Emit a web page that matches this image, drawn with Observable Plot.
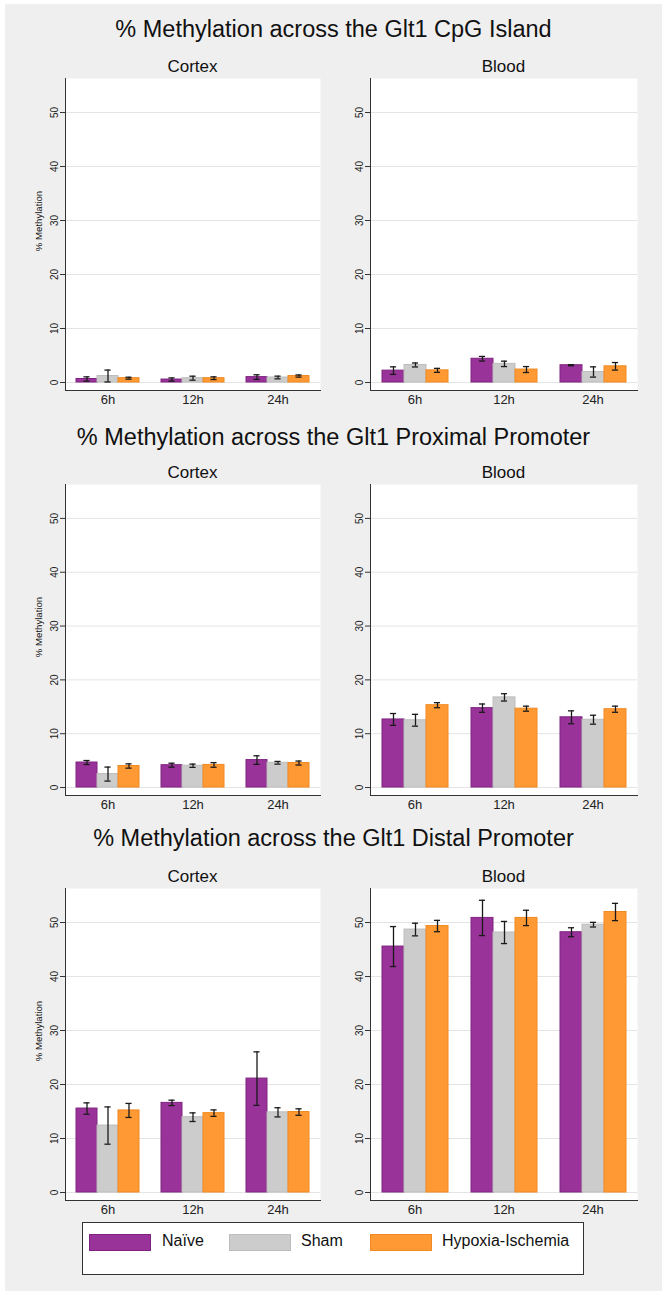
<!DOCTYPE html>
<html>
<head>
<meta charset="utf-8">
<script src="https://cdn.jsdelivr.net/npm/d3@7"></script>
<script src="https://cdn.jsdelivr.net/npm/@observablehq/plot@0.6"></script>
<style>
  html, body { margin: 0; padding: 0; background: #ffffff; }
  body { width: 667px; height: 1297px; position: relative; overflow: hidden;
         font-family: "Liberation Sans", Arial, sans-serif; color: #111; }
  #fig { position: absolute; left: 5px; top: 4px; width: 657px; height: 1287px; background: #efefef; }
  .abs { position: absolute; }
  .title { position: absolute; left: 0; width: 667px; text-align: center; font-size: 23.5px; line-height: 30px; color: #111; white-space: nowrap; }
  .sub { position: absolute; text-align: center; font-size: 17px; line-height: 22px; color: #111; white-space: nowrap; }
  .ylab { position: absolute; font-size: 9.6px; line-height: 12px; width: 100px; text-align: center; color: #111;
          transform: translate(-50%, -50%) rotate(-90deg); white-space: nowrap; }
  #legend { position: absolute; left: 82px; top: 1222px; width: 500px; height: 51px; background: #fff; border: 1px solid #333; }
  .sw { position: absolute; top: 11px; width: 60px; height: 15px; box-sizing: content-box; }
  .lt { position: absolute; top: 8px; font-size: 16px; line-height: 20px; color: #111; white-space: nowrap; }
</style>
</head>
<body>
<div id="fig"></div>
<div id="legend"></div>
<script>
// ---------- data ----------
const times = ["6h", "12h", "24h"];
const groups = ["Naïve", "Sham", "Hypoxia-Ischemia"];
const tissues = ["Cortex", "Blood"];
const regionTitles = [
  "% Methylation across the Glt1 CpG Island",
  "% Methylation across the Glt1 Proximal Promoter",
  "% Methylation across the Glt1 Distal Promoter"
];
const yTicks = [0, 10, 20, 30, 40, 50];
const yLabel = "% Methylation";
const groupColors = ["#993399", "#cccccc", "#ff9933"];
const groupOutlines = ["#7e2480", "#bdbdbd", "#f08a22"];

// mean % methylation: one row per group (Naïve, Sham, Hypoxia-Ischemia), values at 6h, 12h, 24h
const cpgCortexMean  = [[0.65, 0.55, 1.0], [1.2, 0.8, 0.93], [0.8, 0.8, 1.2]];
const cpgCortexErr   = [[0.4, 0.3, 0.43], [1.1, 0.37, 0.25], [0.18, 0.25, 0.2]];
const cpgBloodMean   = [[2.2, 4.4, 3.2], [3.25, 3.45, 1.95], [2.25, 2.4, 3.0]];
const cpgBloodErr    = [[0.7, 0.43, 0.1], [0.37, 0.5, 0.95], [0.37, 0.55, 0.7]];
const proxCortexMean = [[4.65, 4.15, 5.1], [2.5, 4.05, 4.6], [4.0, 4.2, 4.55]];
const proxCortexErr  = [[0.37, 0.37, 0.8], [1.3, 0.3, 0.25], [0.4, 0.43, 0.37]];
const proxBloodMean  = [[12.65, 14.75, 13.05], [12.5, 16.75, 12.6], [15.3, 14.65, 14.55]];
const proxBloodErr   = [[1.1, 0.77, 1.2], [1.1, 0.68, 0.83], [0.47, 0.47, 0.57]];
const distCortexMean = [[15.55, 16.6, 21.1], [12.4, 13.95, 14.85], [15.2, 14.7, 14.9]];
const distCortexErr  = [[1.05, 0.5, 4.95], [3.45, 0.8, 0.85], [1.3, 0.6, 0.6]];
const distBloodMean  = [[45.55, 50.85, 48.2], [48.7, 48.15, 49.6], [49.35, 50.85, 51.95]];
const distBloodErr   = [[3.7, 3.27, 0.83], [1.17, 2.05, 0.43], [1.05, 1.42, 1.6]];

const panelData = [
  [[cpgCortexMean, cpgCortexErr], [cpgBloodMean, cpgBloodErr]],
  [[proxCortexMean, proxCortexErr], [proxBloodMean, proxBloodErr]],
  [[distCortexMean, distCortexErr], [distBloodMean, distBloodErr]]
];

// ---------- layout ----------
const colsX = [{l: 64, r: 321}, {l: 369, r: 638}];
const rowsY = [
  {title: 29, sub: 67, top: 78, axis: 390},
  {title: 437, sub: 473, top: 484, axis: 795},
  {title: 838, sub: 877, top: 888, axis: 1200}
];
const yDomain = [-1.48, 56.3];
const mL = 34, mB = 24;
const xPadOuter = 0.46;

function rowsFor(mean, err) {
  const out = [];
  times.forEach((t, ti) => groups.forEach((g, gi) => {
    const m = mean[gi][ti], e = err[gi][ti];
    out.push({time: t, group: g, mean: m, lo: m - e, hi: m + e});
  }));
  return out;
}

const body = document.body;
rowsY.forEach((row, ri) => {
  const t = document.createElement("div");
  t.className = "title";
  t.style.top = (row.title - 15) + "px";
  t.textContent = regionTitles[ri];
  body.appendChild(t);

  colsX.forEach((col, ci) => {
    const s = document.createElement("div");
    s.className = "sub";
    s.style.left = col.l + "px";
    s.style.width = (col.r - col.l) + "px";
    s.style.top = (row.sub - 11) + "px";
    s.textContent = tissues[ci];
    body.appendChild(s);

    const [mean, err] = panelData[ri][ci];
    const data = rowsFor(mean, err);
    const plotW = col.r - col.l;
    const bw = (plotW / times.length) / (groups.length + 2 * xPadOuter);
    const capInset = Math.max(0, (bw - 7) / 2);

    const chart = Plot.plot({
      width: plotW + mL,
      height: (row.axis - row.top) + mB,
      marginLeft: mL, marginRight: 0, marginTop: 0, marginBottom: mB,
      style: {background: "transparent", fontFamily: "Liberation Sans, Arial, sans-serif", color: "#222", overflow: "visible"},
      fx: {domain: times, padding: 0, label: null},
      x: {domain: groups, paddingInner: 0, paddingOuter: xPadOuter, axis: null},
      y: {domain: yDomain, label: null},
      color: {domain: groups, range: groupColors},
      marks: [
        Plot.frame({fill: "white", stroke: "none", facet: "super"}),
        Plot.gridY(yTicks, {stroke: "#e4e4e4", strokeOpacity: 1, strokeWidth: 1}),
        Plot.barY(data, {fx: "time", x: "group", y: "mean", fill: "group",
          stroke: d => groupOutlines[groups.indexOf(d.group)], strokeWidth: 1}),
        Plot.ruleX(data, {fx: "time", x: "group", y1: "lo", y2: "hi", stroke: "#1a1a1a", strokeWidth: 1.3}),
        Plot.tickY(data, {fx: "time", x: "group", y: "hi", stroke: "#1a1a1a", strokeWidth: 1.3, insetLeft: capInset, insetRight: capInset}),
        Plot.tickY(data, {fx: "time", x: "group", y: "lo", stroke: "#1a1a1a", strokeWidth: 1.3, insetLeft: capInset, insetRight: capInset}),
        Plot.frame({anchor: "left", stroke: "#333", facet: "super"}),
        Plot.frame({anchor: "bottom", stroke: "#333", facet: "super"}),
        Plot.axisY(yTicks, {anchor: "left", tickRotate: -90, tickSize: 5, tickPadding: 3, fontSize: 10, label: null, stroke: "#333"}),
        Plot.axisFx({anchor: "bottom", tickSize: 0, tickPadding: 4, fontSize: 13, label: null})
      ]
    });
    chart.style.position = "absolute";
    chart.style.left = (col.l - mL) + "px";
    chart.style.top = row.top + "px";
    body.appendChild(chart);

    if (ci === 0) {
      const yl = document.createElement("div");
      yl.className = "ylab";
      yl.style.left = "39px";
      yl.style.top = (row.top + 143) + "px";
      yl.textContent = yLabel;
      body.appendChild(yl);
    }
  });
});

// ---------- legend ----------
const legend = document.getElementById("legend");
const swLeft = [6, 146, 287];
const txLeft = [79, 218, 359];
groups.forEach((g, gi) => {
  const sw = document.createElement("div");
  sw.className = "sw";
  sw.style.left = swLeft[gi] + "px";
  sw.style.background = groupColors[gi];
  sw.style.border = "1px solid " + groupOutlines[gi];
  legend.appendChild(sw);
  const tx = document.createElement("div");
  tx.className = "lt";
  tx.style.left = txLeft[gi] + "px";
  tx.textContent = g;
  legend.appendChild(tx);
});
</script>
</body>
</html>
